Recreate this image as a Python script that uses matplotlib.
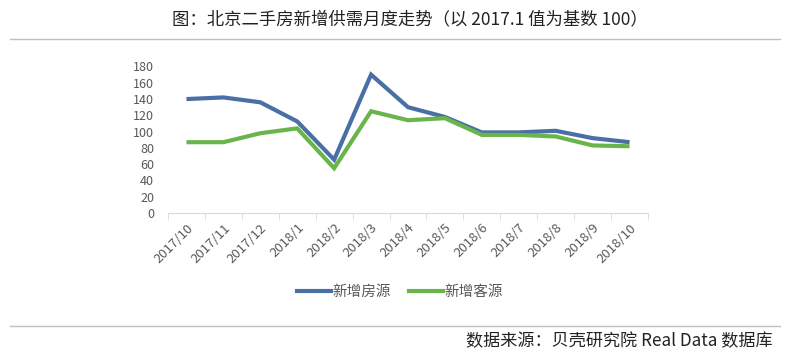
import matplotlib
matplotlib.use("Agg")
import matplotlib.pyplot as plt
from matplotlib.lines import Line2D
import numpy as np

plt.rcParams["font.family"] = ["Noto Sans CJK SC", "DejaVu Sans"]

months = ["2017/10", "2017/11", "2017/12", "2018/1", "2018/2", "2018/3", "2018/4",
          "2018/5", "2018/6", "2018/7", "2018/8", "2018/9", "2018/10"]
supply = [140, 142, 136, 112.5, 65.5, 170, 130, 118, 99, 99, 101, 92, 87]
demand = [87, 87, 98, 104, 55, 125, 114, 116.5, 96, 96, 94, 83, 82]
series_names = ["新增房源", "新增客源"]

BLUE = "#4A6FA5"
GREEN = "#6AB54B"
GRAY = "#595959"

fig = plt.figure(figsize=(7.9, 3.58), dpi=100)
ax = fig.add_axes([168 / 790, 1 - 213 / 358, 480 / 790, (213 - 66.5) / 358])

x = np.arange(len(months))
ax.plot(x, supply, color=BLUE, lw=3, solid_joinstyle="miter", solid_capstyle="butt")
ax.plot(x, demand, color=GREEN, lw=3, solid_joinstyle="miter", solid_capstyle="butt")

ax.set_xlim(-0.5, len(months) - 0.5)
ax.set_ylim(0, 180)
ax.set_yticks(range(0, 181, 20))
ax.tick_params(axis="y", length=0, labelsize=9, colors=GRAY, pad=10)

ax.set_xticks(x)
ax.set_xticklabels(months, rotation=45, ha="right", rotation_mode="anchor",
                   fontsize=9.5, color=GRAY)
ax.set_xticks(np.arange(-0.5, len(months)), minor=True)
ax.tick_params(axis="x", which="major", length=0, pad=6)
ax.tick_params(axis="x", which="minor", length=5, color="#D9D9D9")

for s in ["top", "right", "left"]:
    ax.spines[s].set_visible(False)
ax.spines["bottom"].set_color("#D9D9D9")

handles = [Line2D([], [], color=BLUE, lw=3), Line2D([], [], color=GREEN, lw=3)]
fig.legend(handles, series_names, loc="center", bbox_to_anchor=(400 / 790, 1 - 292 / 358),
           ncol=2, frameon=False, fontsize=10.5, handlelength=2.3, handletextpad=0.1,
           columnspacing=1.3, labelcolor=GRAY)

fig.text(410 / 790, 1 - 19 / 358, "图：北京二手房新增供需月度走势（以 2017.1 值为基数 100）",
         ha="center", va="center", fontsize=12.5, color="#222222")
fig.add_artist(Line2D([10 / 790, 780 / 790], [1 - 39 / 358] * 2, color="#BFBFBF", lw=1))
fig.add_artist(Line2D([10 / 790, 780 / 790], [1 - 326 / 358] * 2, color="#BFBFBF", lw=1))
fig.text(773 / 790, 1 - 341 / 358, "数据来源：贝壳研究院 Real Data 数据库",
         ha="right", va="center", fontsize=12.3, color="#222222")

fig.savefig("out.png", dpi=100)
